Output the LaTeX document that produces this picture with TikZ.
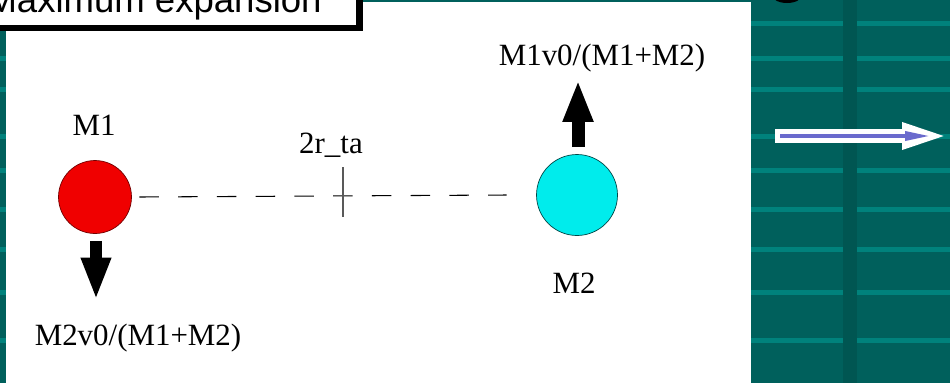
\documentclass[tikz,border=0pt]{standalone}
\usepackage{fontspec}
\setmainfont{Liberation Serif}
\newfontfamily\slidefont{Liberation Sans}
\usetikzlibrary{positioning, arrows.meta}
\definecolor{slidebg}{RGB}{0,96,92}
\definecolor{slidestripe}{RGB}{0,130,124}
\definecolor{slidebar}{RGB}{0,86,82}
\definecolor{arrowblue}{RGB}{106,106,205}
\definecolor{massred}{RGB}{240,0,0}
\definecolor{masscyan}{RGB}{0,236,236}
\tikzset{mass/.style={circle,draw,line width=0.4pt,inner sep=0pt},
         lbl/.style={font=\fontsize{17.6}{20}\selectfont,anchor=base,inner sep=0pt},
         fatarrow/.style={line width=0.25cm,-{Triangle[length=0.85cm,width=0.55cm]}},
        }

\begin{document}
\begin{tikzpicture}[x=0.02cm,y=-0.02cm]
        \clip(0,0)rectangle(950,383);
        % slide background
        \fill[slidebg](0,0)rectangle(950,383);
        \foreach \y in {21,56,87,134,168,207,247,290,338}{
            \fill[slidestripe](0,\y)rectangle(6,\y+5);
            \fill[slidestripe](751,\y)rectangle(950,\y+5);
        }
        \fill[slidebar](843,0)rectangle(857,383);
        \fill[black](787,-5)ellipse(15 and 8);
        \fill[white](6,2)rectangle(751,383);

        % title box
        \fill[black](-10,-10)rectangle(363,31);
        \filldraw[fill=white,draw=black,line width=1pt](-10,-10)rectangle(357,26);
        \node[font=\slidefont\fontsize{20.8}{24}\selectfont,anchor=base east,inner sep=0pt](title)at(322,12){Maximum expansion};

        \node[mass,fill=massred,draw=red!45!black,minimum size=1.46cm](m1)at(95,197){};
        \node[mass,fill=masscyan,draw=masscyan!30!black,minimum size=1.62cm](m2)at(577,195){};

        \node[lbl](l1)at(94,135){M1};
        \node[lbl](l2)at(574,293){M2};
        \node[lbl](d)at(331,153){2r\_ta};
        \node[lbl](v1)at(138,345){M2v0/(M1+M2)};
        \node[lbl](v2)at(602,65){M1v0/(M1+M2)};

        \coordinate(mid)at(343,192);
        \coordinate(tipa)at(96,300);
        \coordinate(tipb)at(578,80);

        \draw[line width=0.6pt,dash pattern=on 0.39cm off 0.385cm]([xshift=0.15cm]m1.east)--([xshift=-0.59cm]m2.west);
        \draw[gray!70!black,line width=1pt]([yshift=0.5cm]mid)--([yshift=-0.5cm]mid);

        \draw[fatarrow]([xshift=0.02cm,yshift=-0.14cm]m1.south)--(tipa);
        \draw[fatarrow,line width=0.26cm,-{Triangle[length=0.84cm,width=0.56cm]}]([xshift=0.02cm,yshift=0.14cm]m2.north)--(tipb);

        % arrow on the slide
        \coordinate(ra)at(775,136);
        \coordinate(rb)at(952,136);
        \coordinate(ba)at(780,136);
        \coordinate(bb)at(930,136);
        \draw[white,line width=0.28cm,-{Triangle[length=1cm,width=0.46cm]}](ra)--(rb);
        \draw[arrowblue,line width=0.07cm,-{Triangle[length=0.5cm,width=0.18cm]}](ba)--(bb);
\end{tikzpicture}
\end{document}
